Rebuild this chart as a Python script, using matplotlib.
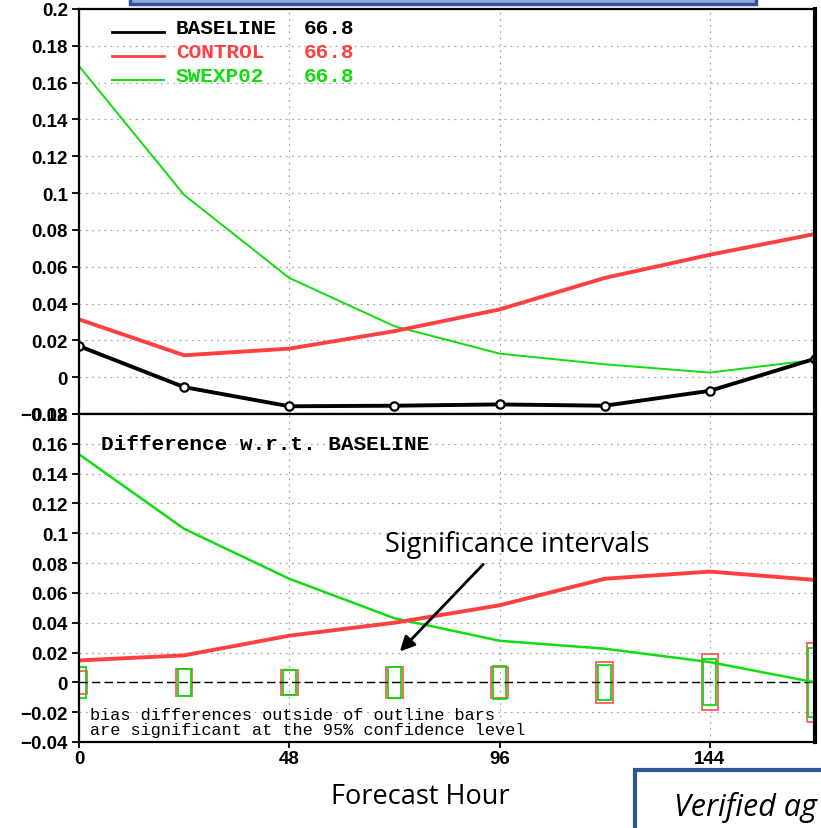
import matplotlib.pyplot as plt
from matplotlib.patches import Rectangle
from matplotlib.lines import Line2D

# forecast hours and bias values
hours = [0, 24, 48, 72, 96, 120, 144, 168]

baseline = [0.0169, -0.0054, -0.0158, -0.0155, -0.0148, -0.0155, -0.0074, 0.0100]
control = [0.0314, 0.0119, 0.0155, 0.0250, 0.0368, 0.0539, 0.0665, 0.0778]
swexp02 = [0.169, 0.099, 0.0539, 0.0277, 0.0128, 0.0070, 0.0025, 0.0094]

diff_control = [0.0147, 0.0181, 0.0313, 0.0400, 0.0517, 0.0695, 0.0743, 0.0687]
diff_swexp02 = [0.153, 0.103, 0.0695, 0.0430, 0.0279, 0.0226, 0.0136, 0.0]

# half-heights of the significance bars
sig_control = [0.0077, 0.0090, 0.0084, 0.0102, 0.0106, 0.0136, 0.0188, 0.0265]
sig_swexp02 = [0.0104, 0.0090, 0.0084, 0.0104, 0.0110, 0.0118, 0.0154, 0.0231]

legend_names = ['BASELINE', 'CONTROL', 'SWEXP02']
legend_scores = ['66.8', '66.8', '66.8']

top_yticks = [-0.02, 0, 0.02, 0.04, 0.06, 0.08, 0.1, 0.12, 0.14, 0.16, 0.18, 0.2]
top_ylabels = ['\u22120.02', '0', '0.02', '0.04', '0.06', '0.08', '0.1', '0.12', '0.14', '0.16', '0.18', '0.2']
bot_yticks = [-0.04, -0.02, 0, 0.02, 0.04, 0.06, 0.08, 0.1, 0.12, 0.14, 0.16, 0.18]
bot_ylabels = ['\u22120.04', '\u22120.02', '0', '0.02', '0.04', '0.06', '0.08', '0.1', '0.12', '0.14', '0.16', '0.18']
xticks = [0, 48, 96, 144]

BLACK = 'black'
RED = '#ff4040'
GREEN = '#10dc10'
BOXBLUE = '#2f5597'

W, H = 821, 829
fig = plt.figure(figsize=(W / 100, H / 100), dpi=100)

def fx(px):
    return px / W

def fy(py):
    return 1 - py / H

ax1 = fig.add_axes([fx(79), fy(415), fx(815) - fx(79), fy(10) - fy(415)])
ax2 = fig.add_axes([fx(79), fy(743), fx(815) - fx(79), fy(415) - fy(743)])

for ax, yt, yl, ylim in [(ax1, top_yticks, top_ylabels, (-0.02, 0.2)),
                         (ax2, bot_yticks, bot_ylabels, (-0.04, 0.18))]:
    ax.set_xlim(0, 168)
    ax.set_ylim(*ylim)
    ax.set_yticks(yt)
    ax.set_yticklabels(yl, fontfamily='Liberation Sans', fontweight='bold', fontsize=13.5)
    ax.set_xticks(xticks)
    ax.grid(True, color='#a8a8a8', linestyle=(0, (1.5, 3.5)), linewidth=0.9)
    ax.tick_params(axis='y', direction='out', length=5, width=1.3, pad=3)
    ax.tick_params(axis='x', direction='out', length=4, width=1.3, pad=2)
    for side in ['left', 'top', 'bottom']:
        ax.spines[side].set_linewidth(1.6)
    ax.spines['right'].set_linewidth(3)
    ax.set_axisbelow(True)

ax1.tick_params(axis='x', length=0, labelbottom=False)
ax2.set_xticklabels([str(h) for h in xticks], fontfamily='Liberation Sans',
                    fontweight='bold', fontsize=13.5)

# top panel: biases
ax1.plot(hours, swexp02, color=GREEN, lw=1.4)
ax1.plot(hours, control, color=RED, lw=2.8)
ax1.plot(hours, baseline, color=BLACK, lw=2.8, marker='o', markersize=6,
         markerfacecolor='white', markeredgecolor=BLACK, markeredgewidth=1.6)

# legend drawn by hand, GrADS style
leg_y = [33, 57, 81]
txt_y = [29, 53, 77]
leg_c = [BLACK, RED, GREEN]
leg_w = [2.0, 2.0, 1.4]
for name, score, c, w, ly, ty in zip(legend_names, legend_scores, leg_c, leg_w, leg_y, txt_y):
    fig.add_artist(Line2D([fx(112), fx(164)], [fy(ly), fy(ly)], color=c, lw=w,
                          transform=fig.transFigure))
    fig.text(fx(176), fy(ty), name, color=c, fontfamily='Liberation Mono',
             fontweight='bold', fontsize=15.2, va='center')
    fig.text(fx(304), fy(ty), score, color=c, fontfamily='Liberation Mono',
             fontweight='bold', fontsize=15.2, va='center')

# bottom panel: differences
ax2.axhline(0, color=BLACK, lw=1.0, linestyle=(0, (6, 3)))
for h, s in zip(hours, sig_control):
    ax2.add_patch(Rectangle((h - 1.9, -s), 3.8, 2 * s, fill=False,
                            edgecolor='#ff5a5a', lw=1.3))
for h, s in zip(hours, sig_swexp02):
    ax2.add_patch(Rectangle((h - 1.5, -s), 3.0, 2 * s, fill=False,
                            edgecolor=GREEN, lw=1.3))
ax2.plot(hours, diff_swexp02, color=GREEN, lw=1.8)
ax2.plot(hours, diff_control, color=RED, lw=2.8)

ax2.text(fx(101), fy(445), 'Difference w.r.t. BASELINE', transform=fig.transFigure,
         fontfamily='Liberation Mono', fontweight='bold', fontsize=15.2, va='center')
ax2.text(fx(90), fy(723), 'bias differences outside of outline bars\n'
         'are significant at the 95% confidence level', transform=fig.transFigure,
         fontfamily='Liberation Mono', fontsize=12.2, va='center', linespacing=1.0)

# annotation
ax2.text(100, 0.0928, 'Significance intervals', fontfamily='Open Sans',
         fontsize=19.5, ha='center', va='center')
ax2.annotate('', xy=(72.8, 0.0194), xytext=(92.7, 0.0805),
             arrowprops=dict(arrowstyle='-|>', color=BLACK, lw=2, mutation_scale=22))

# slide decorations around the chart
fig.add_artist(Rectangle((fx(130), fy(5)), fx(756) - fx(130), fy(-20) - fy(5),
                         transform=fig.transFigure, facecolor='#8faadc',
                         edgecolor=BOXBLUE, lw=2.5, clip_on=False))
fig.add_artist(Rectangle((fx(635), fy(850)), fx(840) - fx(635), fy(771) - fy(850),
                         transform=fig.transFigure, facecolor='white',
                         edgecolor=BOXBLUE, lw=3, clip_on=False))
fig.text(fx(420), fy(797), 'Forecast Hour', fontfamily='Open Sans', fontsize=19.5,
         ha='center', va='center')
fig.text(fx(674), fy(816), 'Verified ag', fontfamily='Open Sans', style='italic',
         fontsize=22, ha='left', va='baseline')

fig.savefig('out.png', dpi=100)
